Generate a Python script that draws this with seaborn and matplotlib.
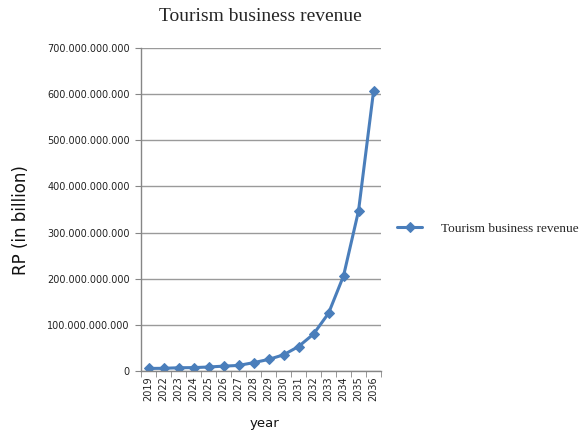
# -*- encoding utf-8 -*-
# Tourism business revenue - line plot

# %% libraries
import matplotlib
matplotlib.use('Agg')
import matplotlib.pyplot as plt
from matplotlib.ticker import FuncFormatter, FixedLocator
import seaborn as sns
import pandas as pd

# %% data
years = ['2019', '2022', '2023', '2024', '2025', '2026', '2027', '2028',
         '2029', '2030', '2031', '2032', '2033', '2034', '2035', '2036']
revenue = [5.5e9, 5.8e9, 7.0e9, 7.3e9, 8.6e9, 10.5e9, 12.0e9, 18.0e9,
           25.0e9, 35.0e9, 53.0e9, 80.0e9, 125.0e9, 206.0e9, 347.0e9, 606.0e9]
series_name = 'Tourism business revenue'

df = pd.DataFrame({'year': years, 'revenue': revenue, 'series': series_name})

# %% plot
sns.set_style('white')
plt.rcParams['font.family'] = ['DejaVu Sans']

fig = plt.figure(figsize=(5.81, 4.34), dpi=100)
ax = fig.add_axes([0.2427, 0.1452, 0.4131, 0.7442])

blue = '#4A7EBB'
sns.lineplot(data=df, x='year', y='revenue', hue='series', palette=[blue],
             marker='D', markersize=5, markeredgecolor=blue, linewidth=2.2,
             sort=False, ax=ax)

# axes
ax.set_xlim(-0.5, len(years) - 0.5)
ax.set_ylim(0, 700e9)
ax.set_yticks([i * 100e9 for i in range(8)])
ax.yaxis.set_major_formatter(
    FuncFormatter(lambda v, p: f'{int(round(v)):,}'.replace(',', '.')))
ax.tick_params(axis='y', labelsize=7, length=4, color='#868686',
               left=True, pad=4, labelcolor='#222222')
ax.tick_params(axis='x', which='major', labelsize=7, length=0,
               labelrotation=90, pad=4, labelcolor='#222222')
ax.xaxis.set_minor_locator(FixedLocator([i - 0.5 for i in range(len(years) + 1)]))
ax.tick_params(axis='x', which='minor', length=4, color='#868686',
               bottom=True)

ax.grid(axis='y', color='#9a9a9a', linewidth=1)
ax.grid(axis='x', visible=False)
for side in ['top', 'right']:
    ax.spines[side].set_visible(False)
for side in ['left', 'bottom']:
    ax.spines[side].set_color('#868686')
    ax.spines[side].set_linewidth(1)

ax.set_xlabel('')
ax.set_ylabel('')
fig.text(0.455, 0.025, 'year', ha='center', va='center', fontsize=9.5,
         color='#111111')
fig.text(0.036, 0.493, 'RP (in billion)', ha='center', va='center',
         rotation=90, fontsize=12, color='#111111')

# title
fig.text(0.4475, 0.962, series_name, ha='center', va='center',
         fontsize=14, family='Liberation Serif')

# legend
ax.legend_.remove()
handles, labels = ax.get_legend_handles_labels()
fig.legend(handles, labels, loc='center left', bbox_to_anchor=(0.6635, 0.473),
           frameon=False, handlelength=1.9, handletextpad=1.4,
           prop={'family': 'Liberation Serif', 'size': 9.5})

fig.savefig('out.png', dpi=100)
